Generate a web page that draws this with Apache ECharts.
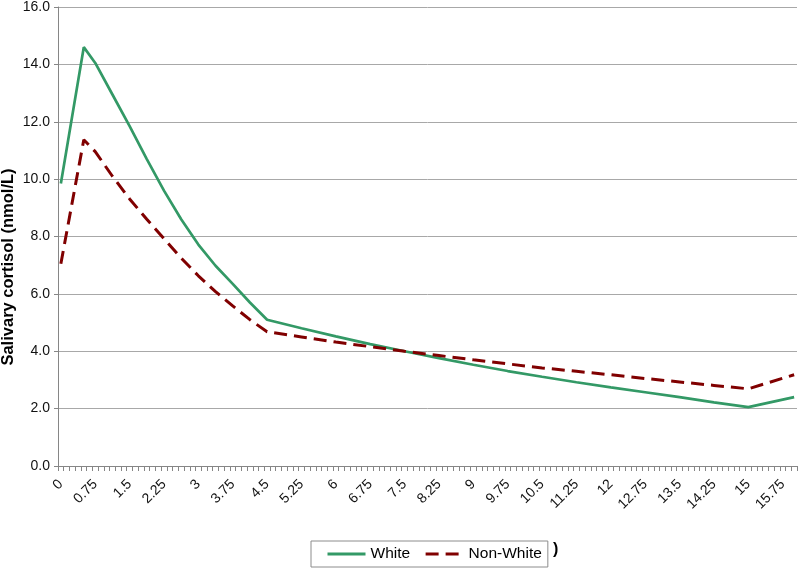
<!DOCTYPE html>
<html>
<head>
<meta charset="utf-8">
<script src="https://cdn.jsdelivr.net/npm/echarts@6/dist/echarts.min.js"></script>
<style>html,body{margin:0;padding:0;background:#fff}#c{width:800px;height:569px}</style>
</head>
<body>
<div id="c"></div>
<script>
// Hours after waking (category axis, 0.125 h steps)
const categories = [
'0','0.125','0.25','0.375','0.5','0.625','0.75','0.875',
'1','1.125','1.25','1.375','1.5','1.625','1.75','1.875',
'2','2.125','2.25','2.375','2.5','2.625','2.75','2.875',
'3','3.125','3.25','3.375','3.5','3.625','3.75','3.875',
'4','4.125','4.25','4.375','4.5','4.625','4.75','4.875',
'5','5.125','5.25','5.375','5.5','5.625','5.75','5.875',
'6','6.125','6.25','6.375','6.5','6.625','6.75','6.875',
'7','7.125','7.25','7.375','7.5','7.625','7.75','7.875',
'8','8.125','8.25','8.375','8.5','8.625','8.75','8.875',
'9','9.125','9.25','9.375','9.5','9.625','9.75','9.875',
'10','10.125','10.25','10.375','10.5','10.625','10.75','10.875',
'11','11.125','11.25','11.375','11.5','11.625','11.75','11.875',
'12','12.125','12.25','12.375','12.5','12.625','12.75','12.875',
'13','13.125','13.25','13.375','13.5','13.625','13.75','13.875',
'14','14.125','14.25','14.375','14.5','14.625','14.75','14.875',
'15','15.125','15.25','15.375','15.5','15.625','15.75','15.875',
'16'
];

const whiteHours = ['0','0.5','0.75','1.125','1.5','1.875','2.25','2.625','3','3.375','3.75','4.125','4.5','5.25','6','6.75','7.5','8.25','9','9.75','10.5','11.25','12','12.75','13.5','14.25','15','16'];
const whiteValues = [9.85,14.6,14.05,12.95,11.85,10.7,9.6,8.6,7.72,6.98,6.35,5.7,5.1,4.8,4.52,4.25,4.0,3.76,3.53,3.31,3.11,2.92,2.74,2.57,2.4,2.22,2.05,2.40];

const nonWhiteHours = ['0','0.5','0.75','1.125','1.5','1.875','2.25','2.625','3','3.375','3.75','4.125','4.5','5.25','6','6.75','7.5','8.25','9','9.75','10.5','11.25','12','12.75','13.5','14.25','15','16'];
const nonWhiteValues = [7.05,11.37,10.96,10.1,9.31,8.6,7.92,7.25,6.63,6.08,5.58,5.1,4.68,4.5,4.32,4.16,4.0,3.85,3.7,3.56,3.42,3.3,3.18,3.05,2.93,2.81,2.69,3.18];

const yTicks = [0, 2, 4, 6, 8, 10, 12, 14, 16];
const seriesNames = ['White', 'Non-White'];

const chart = echarts.init(document.getElementById('c'));
chart.setOption({
  animation: false,
  backgroundColor: '#ffffff',
  grid: { left: 58, right: 3, top: 6, bottom: 103, containLabel: false },
  legend: {
    data: seriesNames,
    left: 311, top: 541,
    padding: [5, 6, 5, 15],
    borderColor: '#8c8c8c', borderWidth: 1,
    itemWidth: 38, itemHeight: 14, itemGap: 14,
    itemStyle: { opacity: 0 },
    lineStyle: { width: 3 },
    textStyle: { fontFamily: 'Liberation Sans, Arial, sans-serif', fontSize: 15.5, color: '#000' }
  },
  xAxis: {
    type: 'category',
    data: categories,
    boundaryGap: true,
    axisLine: { lineStyle: { color: '#868686', width: 1 } },
    axisTick: { show: true, interval: 0, length: 5, lineStyle: { color: '#868686' } },
    axisLabel: {
      interval: 5, rotate: 45, margin: 16,
      fontFamily: 'Liberation Sans, Arial, sans-serif', fontSize: 14, color: '#111'
    },
    splitLine: { show: false }
  },
  yAxis: {
    type: 'value',
    min: yTicks[0], max: yTicks[yTicks.length - 1], interval: 2,
    axisLine: { show: true, lineStyle: { color: '#868686', width: 1 } },
    axisTick: { show: true, length: 4, lineStyle: { color: '#868686' } },
    axisLabel: {
      formatter: v => v.toFixed(1), margin: 8,
      fontFamily: 'Liberation Sans, Arial, sans-serif', fontSize: 14, color: '#111'
    },
    splitLine: { lineStyle: { color: '#a8a8a8', width: 1 } }
  },
  graphic: [
    {
      type: 'text', x: 8, y: 267, rotation: Math.PI / 2,
      style: {
        text: 'Salivary cortisol (nmol/L)', align: 'center', verticalAlign: 'middle',
        font: 'bold 16.5px "Liberation Sans", Arial, sans-serif', fill: '#000'
      }
    },
    {
      type: 'text', x: 553, y: 550,
      style: {
        text: ')', align: 'left', verticalAlign: 'middle',
        font: 'bold 16px "Liberation Sans", Arial, sans-serif', fill: '#000'
      }
    }
  ],
  series: [
    {
      name: seriesNames[0], type: 'line', symbol: 'none', connectNulls: true,
      data: whiteHours.map((h, i) => [h, whiteValues[i]]),
      lineStyle: { color: '#339966', width: 2.7 },
      itemStyle: { color: '#339966' }
    },
    {
      name: seriesNames[1], type: 'line', symbol: 'none', connectNulls: true,
      data: nonWhiteHours.map((h, i) => [h, nonWhiteValues[i]]),
      lineStyle: { color: '#800000', width: 3, type: [13, 7] },
      itemStyle: { color: '#800000' }
    }
  ]
});
</script>
</body>
</html>
